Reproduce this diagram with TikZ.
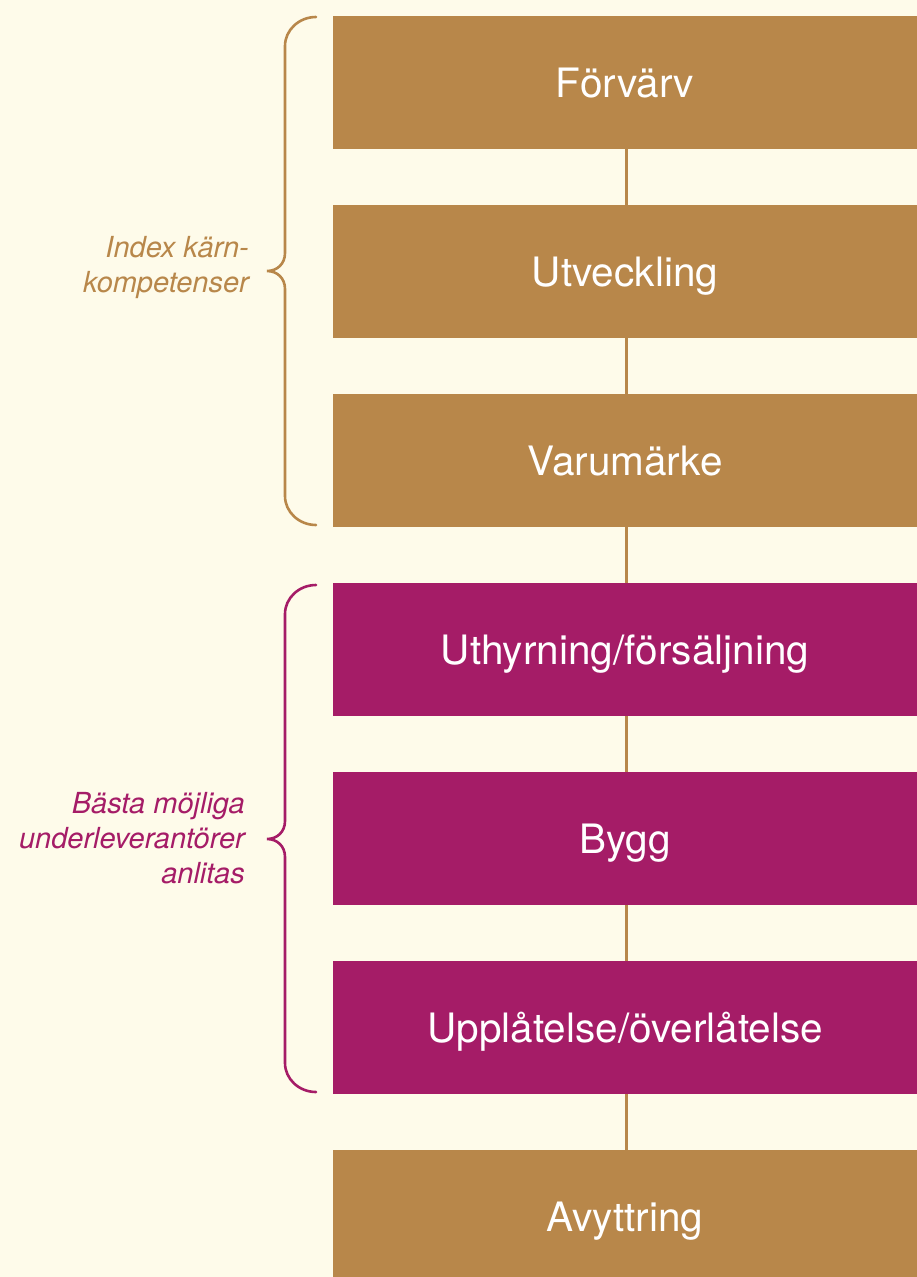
\documentclass[tikz,border=0pt]{standalone}
\usepackage{fontspec}
\setmainfont{TeX Gyre Heros}
\definecolor{bg}{HTML}{FEFBEA}
\definecolor{gold}{HTML}{B8874A}
\definecolor{mag}{HTML}{A51C67}
\begin{document}
\begin{tikzpicture}[x=1pt,y=-1pt,
  stagebox/.style={rectangle,draw=none,fill=#1,text=white,minimum width=584pt,minimum height=133pt,inner sep=0pt,text height=29pt,text depth=0pt,font=\fontsize{40.5}{48}\selectfont},
  link/.style={draw=gold,line width=2.8pt},
  bracepath/.style={draw=#1,line width=2.6pt,line cap=round},
  sidelabel/.style={text=#1,align=right,anchor=east,inner sep=0pt,font=\fontsize{29}{35}\selectfont\itshape}]
\useasboundingbox (0,0) rectangle (917,1277);
\fill[bg] (0,0) rectangle (917,1277);
\begin{scope}
\clip (0,0) rectangle (917,1277);
\node[stagebox=gold] (b1) at (625,82.5) {Förvärv};
\node[stagebox=gold] (b2) at (625,271.5) {Utveckling};
\node[stagebox=gold] (b3) at (625,460.5) {Varumärke};
\node[stagebox=mag] (b4) at (625,649.5) {Uthyrning/försäljning};
\node[stagebox=mag] (b5) at (625,838.5) {Bygg};
\node[stagebox=mag] (b6) at (625,1027.5) {Upplåtelse/överlåtelse};
\node[stagebox=gold] (b7) at (625,1216.5) {Avyttring};
\end{scope}
\foreach \a/\b in {b1/b2,b2/b3,b3/b4,b4/b5,b5/b6,b6/b7}
  \draw[link] ([xshift=1.5pt]\a.south) -- ([xshift=1.5pt]\b.north);
% gold brace
\draw[bracepath=gold] (316,17) .. controls (299,17) and (285,30) .. (285,46)
  -- (285,253) .. controls (285,264) and (277,271) .. (267,271)
  .. controls (277,271) and (285,278) .. (285,289)
  -- (285,496) .. controls (285,512) and (299,525) .. (316,525);
% magenta brace
\draw[bracepath=mag] (316,585) .. controls (299,585) and (285,598) .. (285,614)
  -- (285,821) .. controls (285,832) and (277,839) .. (267,839)
  .. controls (277,839) and (285,846) .. (285,857)
  -- (285,1063) .. controls (285,1079) and (299,1092) .. (316,1092);
\node[sidelabel=gold] (l1) at (249,268) {Index kärn-\\kompetenser};
\node[sidelabel=mag] (l2) at (245,838) {Bästa möjliga\\underleverantörer\\anlitas};
\end{tikzpicture}
\end{document}
